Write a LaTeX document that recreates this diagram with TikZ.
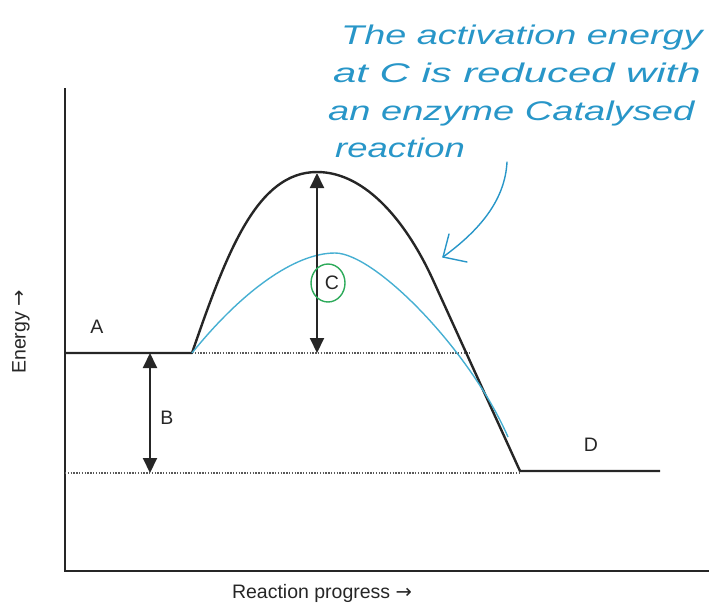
\documentclass[tikz,border=0pt]{standalone}
\usepackage{fontspec}
\setmainfont{Liberation Sans}
\newfontfamily\arrowfont{DejaVu Sans}
\newfontfamily\handfont{Liberation Sans}
\usetikzlibrary{arrows.meta}
\definecolor{handblue}{RGB}{40,150,200}
\definecolor{curveblue}{RGB}{70,175,210}
\definecolor{circgreen}{RGB}{45,170,90}
\newcommand{\handline}[2]{\scalebox{#1}[1]{#2}}
\begin{document}
\begin{tikzpicture}[x=1pt,y=-1pt,
  axisline/.style={line width=2.4pt,black!85},
  curveline/.style={line width=2.4pt,black!85},
  levelline/.style={line width=2.4pt,black!85},
  dotline/.style={line width=1.6pt,black!65,dash pattern=on 1.4pt off 1.4pt},
  dimarrow/.style={line width=2pt,black!85,{Triangle[length=15pt,width=14pt]}-{Triangle[length=15pt,width=14pt]}},
  lab/.style={font=\fontsize{19.5}{22}\selectfont,text=black!85,inner sep=0pt},
  hand/.style={font=\handfont\itshape\fontsize{27}{30}\selectfont,text=handblue,inner sep=0pt,anchor=base west}]
\useasboundingbox (0,0) rectangle (709,606);
% axes
\coordinate (ytop) at (65,88);
\coordinate (origin) at (65,571);
\coordinate (xend) at (709,571);
\draw[axisline] (ytop) -- (origin) -- (xend);
% levels
\coordinate (aL) at (65,353);
\coordinate (aR) at (192,353);
\coordinate (peak) at (317,172);
\coordinate (bend) at (433,280);
\coordinate (dL) at (520,471);
\coordinate (dR) at (660,471);
\coordinate (dotAend) at (470,353);
\coordinate (dotDstart) at (65,473);
\coordinate (dotDend) at (520,473);
\draw[dotline] (aR) -- (dotAend);
\draw[dotline] (dotDstart) -- (dotDend);
% uncatalysed curve
\draw[curveline,line join=round] (aL) -- (aR) .. controls (227,251.5) and (257,172) .. (peak)
  .. controls (367,172) and (408,225) .. (bend) -- (dL) -- (dR);
% catalysed curve
\coordinate (cpeak) at (335,253);
\coordinate (cend) at (508,437);
\draw[line width=1.4pt,curveblue] (aR) .. controls (242,291) and (295,253) .. (cpeak)
  .. controls (375,253) and (470,350) .. (cend);
% arrows
\coordinate (bTop) at (150,353);
\coordinate (bBot) at (150,473);
\draw[dimarrow] (bTop) -- (bBot);
\coordinate (cTop) at (317,173);
\coordinate (cBot) at (317,353);
\draw[dimarrow] (cTop) -- (cBot);
% labels
\node[lab] (A) at (97,327) {A};
\node[lab] (B) at (167,418) {B};
\node[lab] (C) at (332,283) {C};
\node[lab] (D) at (591,445) {D};
\draw[circgreen,line width=1.4pt] (C) ++(-4,0) ellipse (17pt and 19pt);
\node[lab,rotate=90] (ylab) at (21,332) {Energy {\arrowfont→}};
\node[lab] (xlab) at (322,593) {Reaction progress {\arrowfont→}};
% handwritten note
\node[hand] (n1) at (341,44) {\handline{1.40}{The activation energy}};
\node[hand] (n2) at (333,82) {\handline{1.55}{at C is reduced with}};
\node[hand] (n3) at (328,120) {\handline{1.41}{an enzyme Catalysed}};
\node[hand] (n4) at (335,157) {\handline{1.35}{reaction}};
\coordinate (arrStart) at (507,162);
\coordinate (arrTip) at (443,257);
\coordinate (headA) at (449,234);
\coordinate (headB) at (467,262);
\draw[handblue,line width=1.4pt,line cap=round] (arrStart) .. controls (505,200) and (480,230) .. (arrTip);
\draw[handblue,line width=1.4pt,line cap=round,line join=round] (headA) -- (arrTip) -- (headB);
\end{tikzpicture}
\end{document}
